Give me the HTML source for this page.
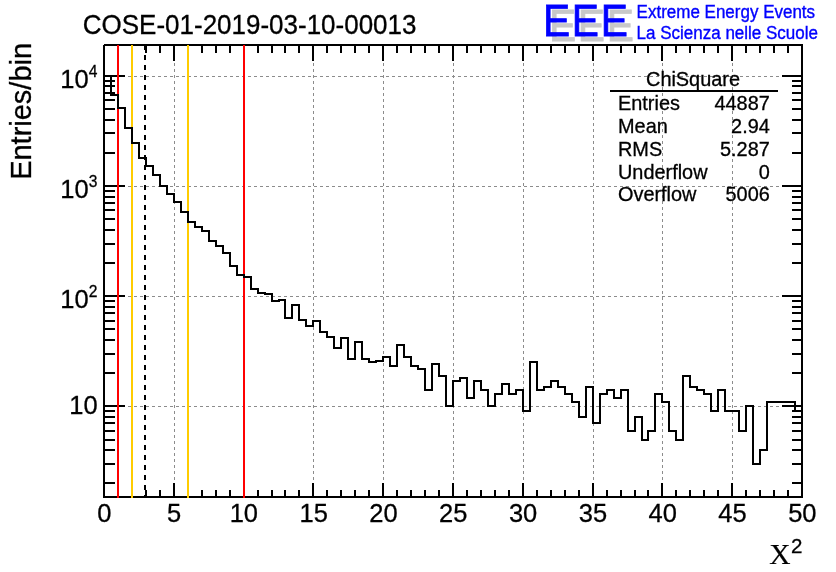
<!DOCTYPE html>
<html><head><meta charset="utf-8"><title>COSE-01-2019-03-10-00013</title>
<style>html,body{margin:0;padding:0;background:#fff;}svg{display:block;}text{font-family:"Liberation Sans",sans-serif;}.ser{font-family:"Liberation Serif",serif;}</style></head><body>
<svg width="836" height="572" viewBox="0 0 836 572">
<rect width="836" height="572" fill="#fff"/>
<g stroke="#8c8c8c" stroke-width="1" stroke-dasharray="3 3" shape-rendering="crispEdges" fill="none">
<line x1="174.5" y1="45" x2="174.5" y2="497"/>
<line x1="244.5" y1="45" x2="244.5" y2="497"/>
<line x1="313.5" y1="45" x2="313.5" y2="497"/>
<line x1="383.5" y1="45" x2="383.5" y2="497"/>
<line x1="453.5" y1="45" x2="453.5" y2="497"/>
<line x1="523.5" y1="45" x2="523.5" y2="497"/>
<line x1="593.5" y1="45" x2="593.5" y2="497"/>
<line x1="662.5" y1="45" x2="662.5" y2="497"/>
<line x1="732.5" y1="45" x2="732.5" y2="497"/>
<line x1="104" y1="406.5" x2="802" y2="406.5"/>
<line x1="104" y1="296.5" x2="802" y2="296.5"/>
<line x1="104" y1="186.5" x2="802" y2="186.5"/>
<line x1="104" y1="76.5" x2="802" y2="76.5"/>
</g>
<g stroke="#000" stroke-width="2" shape-rendering="crispEdges" fill="none">
<rect x="104" y="45" width="698" height="452"/>
<path d="M118 497V490M118 45V53M132 497V490M132 45V53M146 497V490M146 45V53M160 497V490M160 45V53M174 497V483M174 45V61M188 497V490M188 45V53M202 497V490M202 45V53M216 497V490M216 45V53M230 497V490M230 45V53M244 497V483M244 45V61M258 497V490M258 45V53M272 497V490M272 45V53M285 497V490M285 45V53M299 497V490M299 45V53M313 497V483M313 45V61M327 497V490M327 45V53M341 497V490M341 45V53M355 497V490M355 45V53M369 497V490M369 45V53M383 497V483M383 45V61M397 497V490M397 45V53M411 497V490M411 45V53M425 497V490M425 45V53M439 497V490M439 45V53M453 497V483M453 45V61M467 497V490M467 45V53M481 497V490M481 45V53M495 497V490M495 45V53M509 497V490M509 45V53M523 497V483M523 45V61M537 497V490M537 45V53M551 497V490M551 45V53M565 497V490M565 45V53M579 497V490M579 45V53M593 497V483M593 45V61M607 497V490M607 45V53M621 497V490M621 45V53M635 497V490M635 45V53M648 497V490M648 45V53M662 497V483M662 45V61M676 497V490M676 45V53M690 497V490M690 45V53M704 497V490M704 45V53M718 497V490M718 45V53M732 497V483M732 45V61M746 497V490M746 45V53M760 497V490M760 45V53M774 497V490M774 45V53M788 497V490M788 45V53M104 483H115M802 483H792M104 464H115M802 464H792M104 450H115M802 450H792M104 440H115M802 440H792M104 431H115M802 431H792M104 423H115M802 423H792M104 417H115M802 417H792M104 411H115M802 411H792M104 406H125M802 406H782M104 373H115M802 373H792M104 354H115M802 354H792M104 340H115M802 340H792M104 329H115M802 329H792M104 321H115M802 321H792M104 313H115M802 313H792M104 307H115M802 307H792M104 301H115M802 301H792M104 296H125M802 296H782M104 263H115M802 263H792M104 244H115M802 244H792M104 230H115M802 230H792M104 219H115M802 219H792M104 210H115M802 210H792M104 203H115M802 203H792M104 197H115M802 197H792M104 191H115M802 191H792M104 186H125M802 186H782M104 153H115M802 153H792M104 133H115M802 133H792M104 120H115M802 120H792M104 109H115M802 109H792M104 100H115M802 100H792M104 93H115M802 93H792M104 86H115M802 86H792M104 81H115M802 81H792M104 76H125M802 76H782"/>
</g>
<rect x="103" y="44" width="1" height="1" fill="#fff" shape-rendering="crispEdges"/>
<g stroke-width="2" shape-rendering="crispEdges" fill="none">
<line x1="118" y1="45" x2="118" y2="498" stroke="#ff0000"/>
<line x1="244" y1="45" x2="244" y2="498" stroke="#ff0000"/>
<line x1="132" y1="45" x2="132" y2="498" stroke="#ffcc00"/>
<line x1="188" y1="45" x2="188" y2="498" stroke="#ffcc00"/>
<line x1="145" y1="45" x2="145" y2="497" stroke="#000" stroke-dasharray="5 5"/>
</g>
<path d="M104 76H111V95H118V108H125V128H132V143H139V158H146V166H153V175H160V186H167V194H174V202H181V212H188V222H195V227H202V231H209V241H216V246H223V253H230V266H237V275H244V277H251V289H258V293H265V294H272V301H279V300H285V318H292V305H299V320H306V326H313V321H320V332H327V337H334V348H341V338H348V359H355V342H362V359H369V362H376V361H383V357H390V366H397V345H404V357H411V366H418V369H425V390H432V364H439V376H446V406H453V381H460V378H467V398H474V381H481V390H488V406H495V394H502V384H509V394H516V390H523V411H530V362H537V390H544V387H551V381H558V387H565V394H572V402H579V417H586V387H593V423H600V394H607V390H614V398H621V390H628V431H635V417H642V440H648V431H655V394H662V402H669V431H676V440H683V376H690V387H697V390H704V394H711V411H718V390H725V411H732V411H739V431H746V406H753V464H760V450H767V402H774V402H781V402H788V402H795V411H802" stroke="#000" stroke-width="2" fill="none" stroke-linejoin="miter" stroke-linecap="square" shape-rendering="crispEdges"/>
<text transform="translate(104.25 522.40) scale(1 1.03)" font-size="25.5" text-anchor="middle" stroke="#000" stroke-width="0.3">0</text>
<text transform="translate(174.06 522.40) scale(1 1.03)" font-size="25.5" text-anchor="middle" stroke="#000" stroke-width="0.3">5</text>
<text transform="translate(243.86 522.40) scale(1 1.03)" font-size="25.5" text-anchor="middle" stroke="#000" stroke-width="0.3">10</text>
<text transform="translate(313.67 522.40) scale(1 1.03)" font-size="25.5" text-anchor="middle" stroke="#000" stroke-width="0.3">15</text>
<text transform="translate(383.47 522.40) scale(1 1.03)" font-size="25.5" text-anchor="middle" stroke="#000" stroke-width="0.3">20</text>
<text transform="translate(453.28 522.40) scale(1 1.03)" font-size="25.5" text-anchor="middle" stroke="#000" stroke-width="0.3">25</text>
<text transform="translate(523.09 522.40) scale(1 1.03)" font-size="25.5" text-anchor="middle" stroke="#000" stroke-width="0.3">30</text>
<text transform="translate(592.89 522.40) scale(1 1.03)" font-size="25.5" text-anchor="middle" stroke="#000" stroke-width="0.3">35</text>
<text transform="translate(662.70 522.40) scale(1 1.03)" font-size="25.5" text-anchor="middle" stroke="#000" stroke-width="0.3">40</text>
<text transform="translate(732.50 522.40) scale(1 1.03)" font-size="25.5" text-anchor="middle" stroke="#000" stroke-width="0.3">45</text>
<text transform="translate(802.31 522.40) scale(1 1.03)" font-size="25.5" text-anchor="middle" stroke="#000" stroke-width="0.3">50</text>
<text transform="translate(88.60 88.10) scale(1 1.03)" font-size="25.5" text-anchor="end" stroke="#000" stroke-width="0.3">10</text>
<text transform="translate(88.80 76.60) scale(1 1.03)" font-size="15.6" stroke="#000" stroke-width="0.3">4</text>
<text transform="translate(88.60 198.10) scale(1 1.03)" font-size="25.5" text-anchor="end" stroke="#000" stroke-width="0.3">10</text>
<text transform="translate(88.80 186.60) scale(1 1.03)" font-size="15.6" stroke="#000" stroke-width="0.3">3</text>
<text transform="translate(88.60 308.10) scale(1 1.03)" font-size="25.5" text-anchor="end" stroke="#000" stroke-width="0.3">10</text>
<text transform="translate(88.80 296.60) scale(1 1.03)" font-size="15.6" stroke="#000" stroke-width="0.3">2</text>
<text transform="translate(97.70 414.20) scale(1 1.03)" font-size="25.5" text-anchor="end" stroke="#000" stroke-width="0.3">10</text>
<text transform="translate(82.80 34.40) scale(1 1.085)" font-size="26" stroke="#000" stroke-width="0.3">COSE-01-2019-03-10-00013</text>
<text transform="translate(30.60 42.90) rotate(-90) scale(1 1.02)" font-size="29" text-anchor="end" stroke="#000" stroke-width="0.3">Entries/bin</text>
<text transform="translate(769.30 564.40)" font-size="29.5" stroke="#000" stroke-width="0.2" class="ser">&#935;</text>
<text transform="translate(791.00 552.70)" font-size="20.5" stroke="#000" stroke-width="0.3">2</text>
<text transform="translate(693.00 86.20) scale(1 1.05)" font-size="19.9" text-anchor="middle" stroke="#000" stroke-width="0.3">ChiSquare</text>
<text transform="translate(618.00 110.20) scale(1 1.05)" font-size="19.9" stroke="#000" stroke-width="0.3">Entries</text>
<text transform="translate(769.80 110.20) scale(1 1.05)" font-size="19.9" text-anchor="end" stroke="#000" stroke-width="0.3">44887</text>
<text transform="translate(618.00 133.00) scale(1 1.05)" font-size="19.9" stroke="#000" stroke-width="0.3">Mean</text>
<text transform="translate(769.80 133.00) scale(1 1.05)" font-size="19.9" text-anchor="end" stroke="#000" stroke-width="0.3">2.94</text>
<text transform="translate(618.00 155.80) scale(1 1.05)" font-size="19.9" stroke="#000" stroke-width="0.3">RMS</text>
<text transform="translate(769.80 155.80) scale(1 1.05)" font-size="19.9" text-anchor="end" stroke="#000" stroke-width="0.3">5.287</text>
<text transform="translate(618.00 178.60) scale(1 1.05)" font-size="19.9" stroke="#000" stroke-width="0.3">Underflow</text>
<text transform="translate(769.80 178.60) scale(1 1.05)" font-size="19.9" text-anchor="end" stroke="#000" stroke-width="0.3">0</text>
<text transform="translate(618.00 201.40) scale(1 1.05)" font-size="19.9" stroke="#000" stroke-width="0.3">Overflow</text>
<text transform="translate(769.80 201.40) scale(1 1.05)" font-size="19.9" text-anchor="end" stroke="#000" stroke-width="0.3">5006</text>
<line x1="610" y1="91" x2="778" y2="91" stroke="#000" stroke-width="2" shape-rendering="crispEdges"/>
<g font-size="44.3" stroke-width="0.75" stroke-linejoin="miter" letter-spacing="1.9">
<text transform="translate(548.9 41.4) scale(0.92 1)" fill="#c8c8c8" stroke="#c8c8c8">EEE</text>
<text transform="translate(542.9 36.4) scale(0.92 1)" fill="#0000ff" stroke="#0000ff">EEE</text>
</g>
<g font-size="17" fill="#0000ff" stroke="#0000ff" stroke-width="0.35">
<text transform="translate(636.6 17.8) scale(1 1.05)">Extreme Energy Events</text>
<text transform="translate(636.6 38.8) scale(1 1.05)">La Scienza nelle Scuole</text>
</g>
</svg></body></html>
